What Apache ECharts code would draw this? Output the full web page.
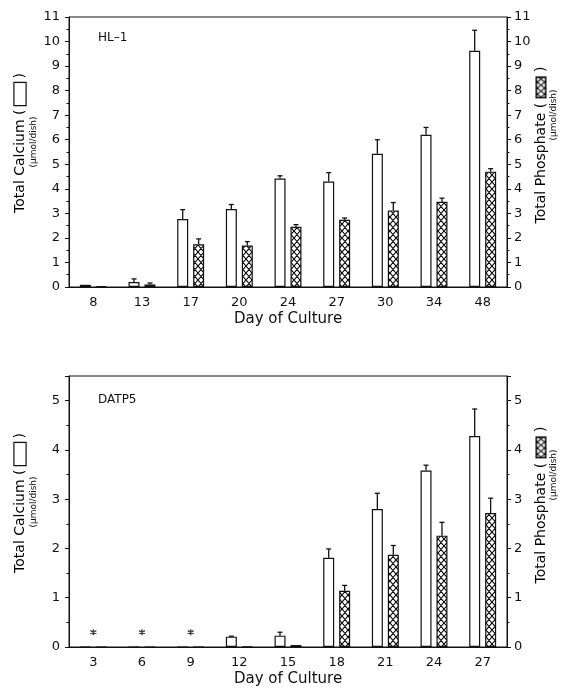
<!DOCTYPE html>
<html lang="en">
<head>
  <meta charset="UTF-8" />
  <title>Total Calcium / Total Phosphate</title>
  <style>
    html, body { margin: 0; padding: 0; background: #fff; }
  </style>
</head>
<body>
  <div id="main" style="width: 566px; height: 688px;"></div>
  <script src="https://cdn.jsdelivr.net/npm/echarts@6/dist/echarts.min.js"></script>
  <script type="text/javascript">
    // HL-1 panel
    const days1 = ['8', '13', '17', '20', '24', '27', '30', '34', '48']
    const ca1 = [0.09, 0.2, 2.77, 3.18, 4.42, 4.3, 5.43, 6.2, 9.62]
    const ca1Sd = [0, 0.13, 0.38, 0.18, 0.11, 0.36, 0.57, 0.3, 0.84]
    const p1 = [0.04, 0.1, 1.74, 1.69, 2.45, 2.74, 3.12, 3.47, 4.7]
    const p1Sd = [0, 0.06, 0.22, 0.16, 0.09, 0.07, 0.32, 0.15, 0.12]

    // DATP5 panel
    const days2 = ['3', '6', '9', '12', '15', '18', '21', '24', '27']
    const ca2 = [0, 0, 0, 0.21, 0.23, 1.81, 2.8, 3.58, 4.28]
    const ca2Sd = [0, 0, 0, 0.01, 0.07, 0.18, 0.32, 0.11, 0.55]
    const p2 = [0, 0, 0, 0.01, 0.04, 1.14, 1.87, 2.26, 2.72]
    const p2Sd = [0, 0, 0, 0, 0, 0.11, 0.19, 0.27, 0.3]
    const star2 = [0.3, 0.3, 0.3, null, null, null, null, null, null]

    const FONT = 'DejaVu Sans'
    const INK = '#111'
    const BAR_W = 11
    const BAR_GAP = 0.45
    const OFF = BAR_W * (1 + BAR_GAP) / 2

    // cross hatch tile, diamonds sx wide and sy tall
    function hatch(w, h, sx, sy, frame) {
      let c = document.createElement('canvas')
      c.width = w
      c.height = h
      let ctx = c.getContext('2d')
      ctx.fillStyle = '#fff'
      ctx.fillRect(0, 0, w, h)
      ctx.strokeStyle = '#000'
      ctx.lineWidth = 1.1
      let run = sx * h / sy
      ctx.beginPath()
      for (let k = -run - sx; k < w + run + sx; k += sx) {
        ctx.moveTo(k, 0); ctx.lineTo(k + run, h)
        ctx.moveTo(k + run, 0); ctx.lineTo(k, h)
      }
      ctx.stroke()
      if (frame) {
        ctx.lineWidth = 1.5
        ctx.strokeRect(0.75, 0.75, w - 1.5, h - 1.5)
      }
      return c
    }
    const tile = hatch(6, 7, 6, 7, false)
    const boxTile = hatch(22, 11, 6, 7, true)

    function errItems(vals, sds) {
      return vals.map((v, i) => [i, v, v + sds[i], sds[i]])
    }

    function errSeries(vals, sds, gi, dx) {
      return {
        type: 'custom',
        xAxisIndex: gi,
        yAxisIndex: gi * 2,
        data: errItems(vals, sds),
        encode: { x: 0, y: [1, 2] },
        z: 3,
        renderItem(params, api) {
          if (!api.value(3)) return
          let a = api.coord([api.value(0), api.value(1)])
          let b = api.coord([api.value(0), api.value(2)])
          let x = a[0] + dx
          let st = { stroke: INK, lineWidth: 1.3 }
          return {
            type: 'group',
            children: [
              { type: 'line', shape: { x1: x, y1: a[1], x2: x, y2: b[1] }, style: st },
              { type: 'line', shape: { x1: x - 2.5, y1: b[1], x2: x + 2.5, y2: b[1] }, style: st }
            ]
          }
        }
      }
    }

    function barPair(ca, p, gi) {
      return [
        {
          type: 'bar', xAxisIndex: gi, yAxisIndex: gi * 2, data: ca,
          barWidth: BAR_W, barGap: (BAR_GAP * 100) + '%',
          itemStyle: { color: '#fff', borderColor: INK, borderWidth: 1.2 }
        },
        {
          type: 'bar', xAxisIndex: gi, yAxisIndex: gi * 2, data: p,
          barWidth: BAR_W, barGap: (BAR_GAP * 100) + '%',
          itemStyle: { color: { image: tile, repeat: 'repeat' }, borderColor: INK, borderWidth: 1.2 }
        }
      ]
    }

    function xAx(gi, days) {
      return {
        type: 'category', gridIndex: gi, data: days,
        axisLine: { lineStyle: { color: INK, width: 1 } },
        axisTick: { show: false },
        axisLabel: { color: INK, fontFamily: FONT, fontSize: 13, margin: 9 },
        name: 'Day of Culture', nameLocation: 'middle', nameGap: 25,
        nameTextStyle: { color: INK, fontFamily: FONT, fontSize: 15 }
      }
    }

    function yAx(gi, max, side) {
      return {
        type: 'value', gridIndex: gi, position: side, min: 0, max: max, interval: 1,
        splitLine: { show: false },
        axisLine: { show: true, lineStyle: { color: INK, width: 1 } },
        axisTick: { show: true, length: 4, lineStyle: { color: INK } },
        minorTick: { show: true, splitNumber: 2, length: 2.5, lineStyle: { color: INK } },
        axisLabel: {
          color: INK, fontFamily: FONT, fontSize: 13, margin: side === 'left' ? 9 : 7,
          formatter: v => Number.isInteger(v) ? String(v) : ''
        }
      }
    }

    const sub = { fontFamily: FONT, fontSize: 9, fill: INK }

    function title(x, y, txt, hatched) {
      let box = hatched
        ? { width: 22, height: 11, backgroundColor: { image: boxTile } }
        : { width: 22, height: 11, borderColor: INK, borderWidth: 1.2, backgroundColor: '#fff' }
      return {
        type: 'text', x: x, y: y, rotation: Math.PI / 2,
        style: {
          text: `{t|${txt} ( }{b| }{t| )}`,
          align: 'center', verticalAlign: 'middle',
          rich: {
            t: { fontFamily: FONT, fontSize: 14, color: INK },
            b: box
          }
        }
      }
    }

    function unit(x, y) {
      return {
        type: 'text', x: x, y: y, rotation: Math.PI / 2,
        style: Object.assign({ text: '(\u00b5mol/dish)', align: 'center', verticalAlign: 'middle' }, sub)
      }
    }

    let myChart = echarts.init(document.getElementById('main'))

    let option = {
      backgroundColor: '#fff',
      animation: false,
      grid: [
        { left: 69, right: 59, top: 17, height: 270, show: true, borderColor: INK, borderWidth: 1 },
        { left: 69, right: 59, top: 376, height: 271, show: true, borderColor: INK, borderWidth: 1 }
      ],
      xAxis: [xAx(0, days1), xAx(1, days2)],
      yAxis: [yAx(0, 11, 'left'), yAx(0, 11, 'right'), yAx(1, 5.5, 'left'), yAx(1, 5.5, 'right')],
      series: [
        ...barPair(ca1, p1, 0),
        errSeries(ca1, ca1Sd, 0, -OFF),
        errSeries(p1, p1Sd, 0, OFF),
        ...barPair(ca2, p2, 1),
        errSeries(ca2, ca2Sd, 1, -OFF),
        errSeries(p2, p2Sd, 1, OFF),
        {
          type: 'scatter', xAxisIndex: 1, yAxisIndex: 2, data: star2,
          symbol: 'path://M5 0L5 10M0.7 2.5L9.3 7.5M9.3 2.5L0.7 7.5',
          symbolSize: 6,
          itemStyle: { color: 'none', borderColor: INK, borderWidth: 1.4 }
        }
      ],
      graphic: [
        { type: 'text', x: 98, y: 32, style: { text: 'HL\u20131', fontFamily: FONT, fontSize: 12, fill: INK } },
        { type: 'text', x: 98, y: 394, style: { text: 'DATP5', fontFamily: FONT, fontSize: 12, fill: INK } },
        title(20, 143, 'Total Calcium', false),
        unit(34, 142),
        title(541, 145, 'Total Phosphate', true),
        unit(554, 115),
        title(20, 503, 'Total Calcium', false),
        unit(34, 502),
        title(541, 505, 'Total Phosphate', true),
        unit(554, 475)
      ]
    }
    myChart.setOption(option)
  </script>
</body>
</html>
